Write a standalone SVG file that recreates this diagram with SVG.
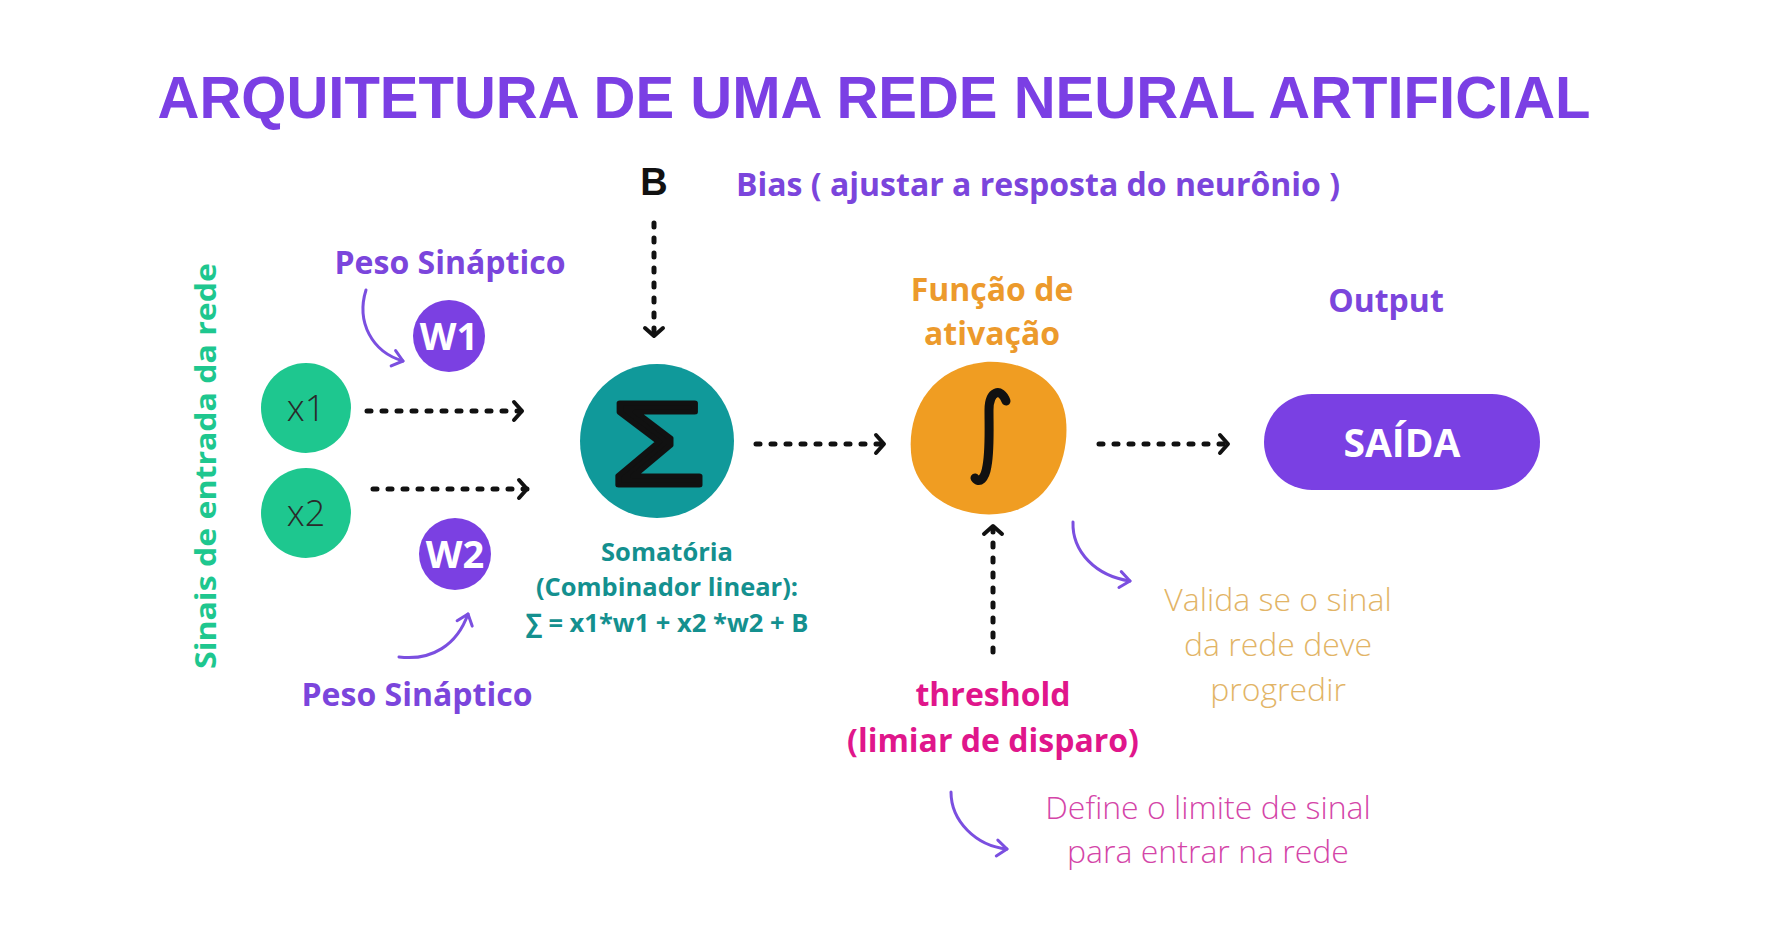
<svg xmlns="http://www.w3.org/2000/svg" width="1777" height="934" viewBox="0 0 1777 934">
<defs>
<style>
.t{font-family:"Open Sans","Liberation Sans",sans-serif;font-weight:700;text-anchor:middle}
.lt{font-family:"Open Sans","Liberation Sans",sans-serif;font-weight:300;text-anchor:middle}
.purple{fill:#7b45dc}
.teal{fill:#14908f}
.dot{fill:none;stroke:#111;stroke-width:5;stroke-linecap:round;stroke-dasharray:4 11}
.curve{fill:none;stroke:#7b4fe0;stroke-width:3;stroke-linecap:round}
</style>
<marker id="chev" markerUnits="userSpaceOnUse" viewBox="-14 -12 20 24" markerWidth="20" markerHeight="24" refX="0" refY="0" orient="auto">
<polyline points="-8,-9 0,0 -8,9" fill="none" stroke="#111" stroke-width="4" stroke-linecap="round" stroke-linejoin="round"/>
</marker>
<marker id="pchev" markerUnits="userSpaceOnUse" viewBox="-14 -12 20 24" markerWidth="20" markerHeight="24" refX="0" refY="0" orient="auto">
<polyline points="-10,-8 0,0 -10,8" fill="none" stroke="#7b4fe0" stroke-width="3" stroke-linecap="round" stroke-linejoin="round"/>
</marker>
</defs>
<rect width="1777" height="934" fill="#ffffff"/>

<g id="title">
<text x="874" y="118" font-family="'Liberation Sans',Arial,sans-serif" font-weight="700" font-size="60" fill="#7b3fe4" text-anchor="middle" textLength="1433" lengthAdjust="spacingAndGlyphs">ARQUITETURA DE UMA REDE NEURAL ARTIFICIAL</text>
</g>

<g id="input-label">
<text class="t" transform="translate(216,466) rotate(-90)" font-size="29" fill="#1ec78f" textLength="406" lengthAdjust="spacingAndGlyphs">Sinais de entrada da rede</text>
</g>

<g id="x1">
<circle cx="306" cy="408" r="45" fill="#1ec78f"/>
<text class="lt" x="306" y="421" font-size="36" fill="#2a2a2a">x1</text>
</g>
<g id="x2">
<circle cx="306" cy="513" r="45" fill="#1ec78f"/>
<text class="lt" x="306" y="526" font-size="36" fill="#2a2a2a">x2</text>
</g>

<g id="w1">
<circle cx="449" cy="336" r="36" fill="#7b40e2"/>
<text class="t" x="449" y="350" font-size="38" fill="#ffffff">W1</text>
</g>
<g id="w2">
<circle cx="455" cy="554" r="36" fill="#7b40e2"/>
<text class="t" x="455" y="568" font-size="38" fill="#ffffff">W2</text>
</g>

<g id="peso-top">
<text class="t purple" x="450" y="274" font-size="32">Peso Sináptico</text>
</g>
<g id="peso-bottom">
<text class="t purple" x="417" y="706" font-size="32">Peso Sináptico</text>
</g>

<g id="bias">
<text x="654" y="195" font-family="'Liberation Sans',Arial,sans-serif" font-weight="700" font-size="38" fill="#111" text-anchor="middle">B</text>
<text class="t purple" x="1038" y="196" font-size="32">Bias ( ajustar a resposta do neurônio )</text>
</g>

<g id="sum">
<circle cx="657" cy="441" r="77" fill="#10999a"/>
<text transform="translate(658,485) scale(1.3,1)" x="0" y="0" font-family="'Liberation Sans',Arial,sans-serif" font-weight="400" font-size="118" fill="#111" stroke="#111" stroke-width="5" stroke-linejoin="round" text-anchor="middle">Σ</text>
<text class="t teal" x="667" y="561" font-size="25.5">Somatória</text>
<text class="t teal" x="667" y="596" font-size="25.5">(Combinador linear):</text>
<text class="t teal" x="667" y="632" font-size="25.5">∑ = x1*w1 + x2 *w2 + B</text>
</g>

<g id="activation">
<text class="t" x="992" y="301" font-size="32" fill="#ec9a2c">Função de</text>
<text class="t" x="992" y="345" font-size="32" fill="#ec9a2c">ativação</text>
<path d="M 985,362 C 1025,360 1062,380 1066,420 C 1070,460 1050,505 1005,513 C 965,520 920,500 912,460 C 905,420 925,368 985,362 Z" fill="#f09d22"/>
<path d="M 1006,401 C 1001,387 989,391 989,410 C 989,430 990,450 987,466 C 985,479 979,484 975,478" fill="none" stroke="#111" stroke-width="9" stroke-linecap="round"/>
</g>

<g id="output">
<text class="t purple" x="1386" y="312" font-size="32">Output</text>
<rect x="1264" y="394" width="276" height="96" rx="48" fill="#7a40e3"/>
<text class="t" x="1402" y="457" font-size="39" fill="#ffffff">SAÍDA</text>
</g>

<g id="threshold">
<text class="t" x="993" y="706" font-size="32" fill="#e0168b">threshold</text>
<text class="t" x="993" y="752" font-size="32" fill="#e0168b">(limiar de disparo)</text>
</g>

<g id="note-valida">
<text class="lt" x="1278" y="611" font-size="32" fill="#e2b466">Valida se o sinal</text>
<text class="lt" x="1278" y="656" font-size="32" fill="#e2b466">da rede deve</text>
<text class="lt" x="1278" y="701" font-size="32" fill="#e2b466">progredir</text>
</g>

<g id="note-define">
<text class="lt" x="1208" y="819" font-size="32" fill="#d445a8">Define o limite de sinal</text>
<text class="lt" x="1208" y="863" font-size="32" fill="#d445a8">para entrar na rede</text>
</g>

<g id="connectors">
<line class="dot" x1="654" y1="223" x2="654" y2="336" marker-end="url(#chev)"/>
<line class="dot" x1="367" y1="411" x2="522" y2="411" marker-end="url(#chev)"/>
<line class="dot" x1="373" y1="489" x2="527" y2="489" marker-end="url(#chev)"/>
<line class="dot" x1="756" y1="444" x2="884" y2="444" marker-end="url(#chev)"/>
<line class="dot" x1="1099" y1="444" x2="1228" y2="444" marker-end="url(#chev)"/>
<line class="dot" x1="993" y1="652" x2="993" y2="526" marker-end="url(#chev)"/>
<path class="curve" d="M 366,290 C 356,322 372,352 403,361" marker-end="url(#pchev)"/>
<path class="curve" d="M 399,657 C 432,661 457,645 468,614" marker-end="url(#pchev)"/>
<path class="curve" d="M 1073,522 C 1072,552 1096,576 1130,581" marker-end="url(#pchev)"/>
<path class="curve" d="M 951,792 C 951,821 976,846 1007,849" marker-end="url(#pchev)"/>
</g>
</svg>
